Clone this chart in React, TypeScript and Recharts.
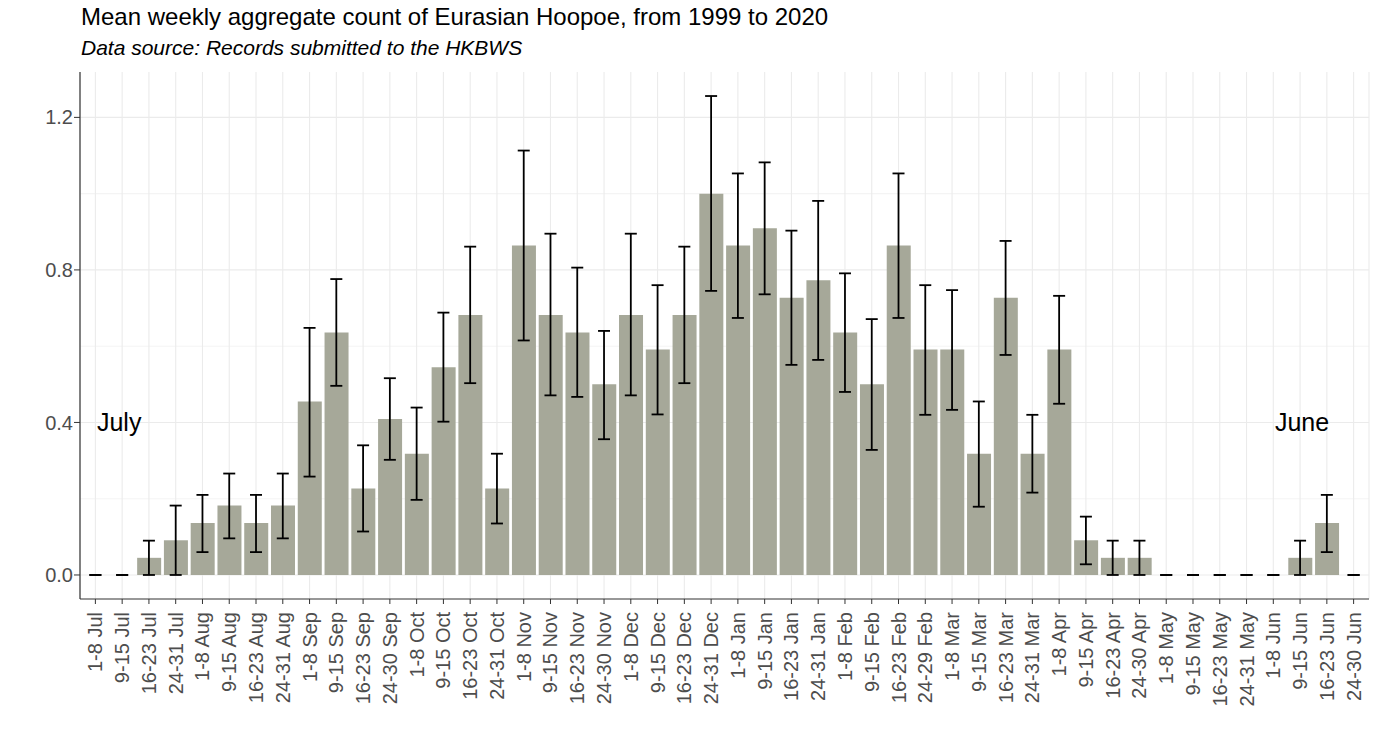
import React from "react";
import {
  ComposedChart,
  Bar,
  Line,
  ErrorBar,
  XAxis,
  YAxis,
  CartesianGrid,
  ReferenceDot,
} from "recharts";

// weekly bins, July to June
const weeks = [
  "1-8 Jul", "9-15 Jul", "16-23 Jul", "24-31 Jul",
  "1-8 Aug", "9-15 Aug", "16-23 Aug", "24-31 Aug",
  "1-8 Sep", "9-15 Sep", "16-23 Sep", "24-30 Sep",
  "1-8 Oct", "9-15 Oct", "16-23 Oct", "24-31 Oct",
  "1-8 Nov", "9-15 Nov", "16-23 Nov", "24-30 Nov",
  "1-8 Dec", "9-15 Dec", "16-23 Dec", "24-31 Dec",
  "1-8 Jan", "9-15 Jan", "16-23 Jan", "24-31 Jan",
  "1-8 Feb", "9-15 Feb", "16-23 Feb", "24-29 Feb",
  "1-8 Mar", "9-15 Mar", "16-23 Mar", "24-31 Mar",
  "1-8 Apr", "9-15 Apr", "16-23 Apr", "24-30 Apr",
  "1-8 May", "9-15 May", "16-23 May", "24-31 May",
  "1-8 Jun", "9-15 Jun", "16-23 Jun", "24-30 Jun",
];

const meanCount = [
  0, 0, 0.045, 0.091, 0.136, 0.182, 0.136, 0.182,
  0.455, 0.636, 0.227, 0.409, 0.318, 0.545, 0.682, 0.227,
  0.864, 0.682, 0.636, 0.5, 0.682, 0.591, 0.682, 1.0,
  0.864, 0.909, 0.727, 0.773, 0.636, 0.5, 0.864, 0.591,
  0.591, 0.318, 0.727, 0.318, 0.591, 0.091, 0.045, 0.045,
  0, 0, 0, 0, 0, 0.045, 0.136, 0,
];

const lowerBound = [
  0, 0, 0, 0, 0.06, 0.096, 0.06, 0.096,
  0.258, 0.496, 0.114, 0.302, 0.197, 0.402, 0.503, 0.135,
  0.615, 0.471, 0.467, 0.356, 0.471, 0.421, 0.503, 0.745,
  0.674, 0.736, 0.551, 0.564, 0.48, 0.328, 0.674, 0.42,
  0.433, 0.179, 0.577, 0.216, 0.449, 0.028, 0, 0,
  0, 0, 0, 0, 0, 0, 0.06, 0,
];

const upperBound = [
  0, 0, 0.09, 0.182, 0.21, 0.266, 0.21, 0.266,
  0.648, 0.776, 0.34, 0.516, 0.439, 0.688, 0.861, 0.318,
  1.113, 0.895, 0.806, 0.64, 0.895, 0.76, 0.861, 1.256,
  1.053, 1.082, 0.903, 0.981, 0.791, 0.671, 1.053, 0.76,
  0.747, 0.455, 0.876, 0.42, 0.732, 0.153, 0.09, 0.09,
  0, 0, 0, 0, 0, 0.09, 0.21, 0,
];

const yTicks = [0, 0.4, 0.8, 1.2];
const yMinor = [0.2, 0.6, 1.0];

const data = weeks.map((week, i) => ({
  week,
  mean: meanCount[i],
  err: [meanCount[i] - lowerBound[i], upperBound[i] - meanCount[i]],
}));

const FONT = '"Liberation Sans", Arial, sans-serif';

function WeekTick(props: any) {
  const { x, y, payload } = props;
  return (
    <g transform={`translate(${x},${y})`}>
      <text
        transform="rotate(-90)"
        x={-6}
        y={0}
        dy="0.35em"
        textAnchor="end"
        fill="#4D4D4D"
        fontSize={20}
        fontFamily={FONT}
      >
        {payload.value}
      </text>
    </g>
  );
}

function MonthNote(label: string, shift: number) {
  return (p: any) => (
    <text
      x={p.cx + shift}
      y={p.cy}
      dy="0.35em"
      textAnchor="middle"
      fill="#000"
      fontSize={25}
      fontFamily={FONT}
    >
      {label}
    </text>
  );
}

export default function App() {
  return (
    <div
      style={{
        position: "absolute",
        left: 0,
        top: 0,
        width: 1379,
        height: 752,
        background: "#fff",
        fontFamily: FONT,
      }}
    >
      <div style={{ position: "absolute", left: 81, top: 3, fontSize: 24, color: "#000", whiteSpace: "nowrap" }}>
        Mean weekly aggregate count of Eurasian Hoopoe, from 1999 to 2020
      </div>
      <div
        style={{ position: "absolute", left: 81, top: 36, fontSize: 21, fontStyle: "italic", color: "#000", whiteSpace: "nowrap" }}
      >
        Data source: Records submitted to the HKBWS
      </div>
      <ComposedChart
        width={1379}
        height={752}
        data={data}
        margin={{ top: 72, right: 10, bottom: 0, left: 8 }}
        barCategoryGap="6%"
      >
        <CartesianGrid vertical={false} horizontalValues={yMinor} stroke="#F4F4F4" strokeWidth={1.1} />
        <CartesianGrid horizontalValues={yTicks} stroke="#EBEBEB" strokeWidth={1.1} />
        <XAxis
          dataKey="week"
          interval={0}
          height={153}
          padding={{ left: 2, right: 2 }}
          tick={<WeekTick />}
          tickSize={5}
          tickMargin={2}
          tickLine={{ stroke: "#333333" }}
          axisLine={{ stroke: "#333333", strokeWidth: 1.2 }}
        />
        <XAxis
          xAxisId="top"
          dataKey="week"
          orientation="top"
          height={0}
          padding={{ left: 2, right: 2 }}
          tick={false}
          tickLine={false}
          axisLine={{ stroke: "#333333", strokeWidth: 1.2 }}
        />
        <YAxis
          width={72}
          domain={[-0.063, 1.319]}
          allowDataOverflow
          ticks={yTicks}
          tickFormatter={(v: number) => v.toFixed(1)}
          tick={{ fill: "#4D4D4D", fontSize: 20, fontFamily: FONT }}
          tickSize={6}
          tickMargin={1}
          tickLine={{ stroke: "#333333" }}
          axisLine={{ stroke: "#333333", strokeWidth: 1.2 }}
        />
        <YAxis
          yAxisId="right"
          orientation="right"
          width={0}
          tick={false}
          tickLine={false}
          axisLine={{ stroke: "#333333", strokeWidth: 1.2 }}
        />
        <Bar dataKey="mean" fill="#A6A899" isAnimationActive={false} />
        <Line
          dataKey="mean"
          stroke="none"
          dot={false}
          activeDot={false}
          legendType="none"
          isAnimationActive={false}
        >
          <ErrorBar
            dataKey="err"
            direction="y"
            width={6}
            stroke="#000"
            strokeWidth={1.8}
            isAnimationActive={false}
          />
        </Line>
        <ReferenceDot x="9-15 Jul" y={0.4} r={0} shape={MonthNote("July", -3)} />
        <ReferenceDot x="9-15 Jun" y={0.4} r={0} shape={MonthNote("June", 2)} />
      </ComposedChart>
    </div>
  );
}
